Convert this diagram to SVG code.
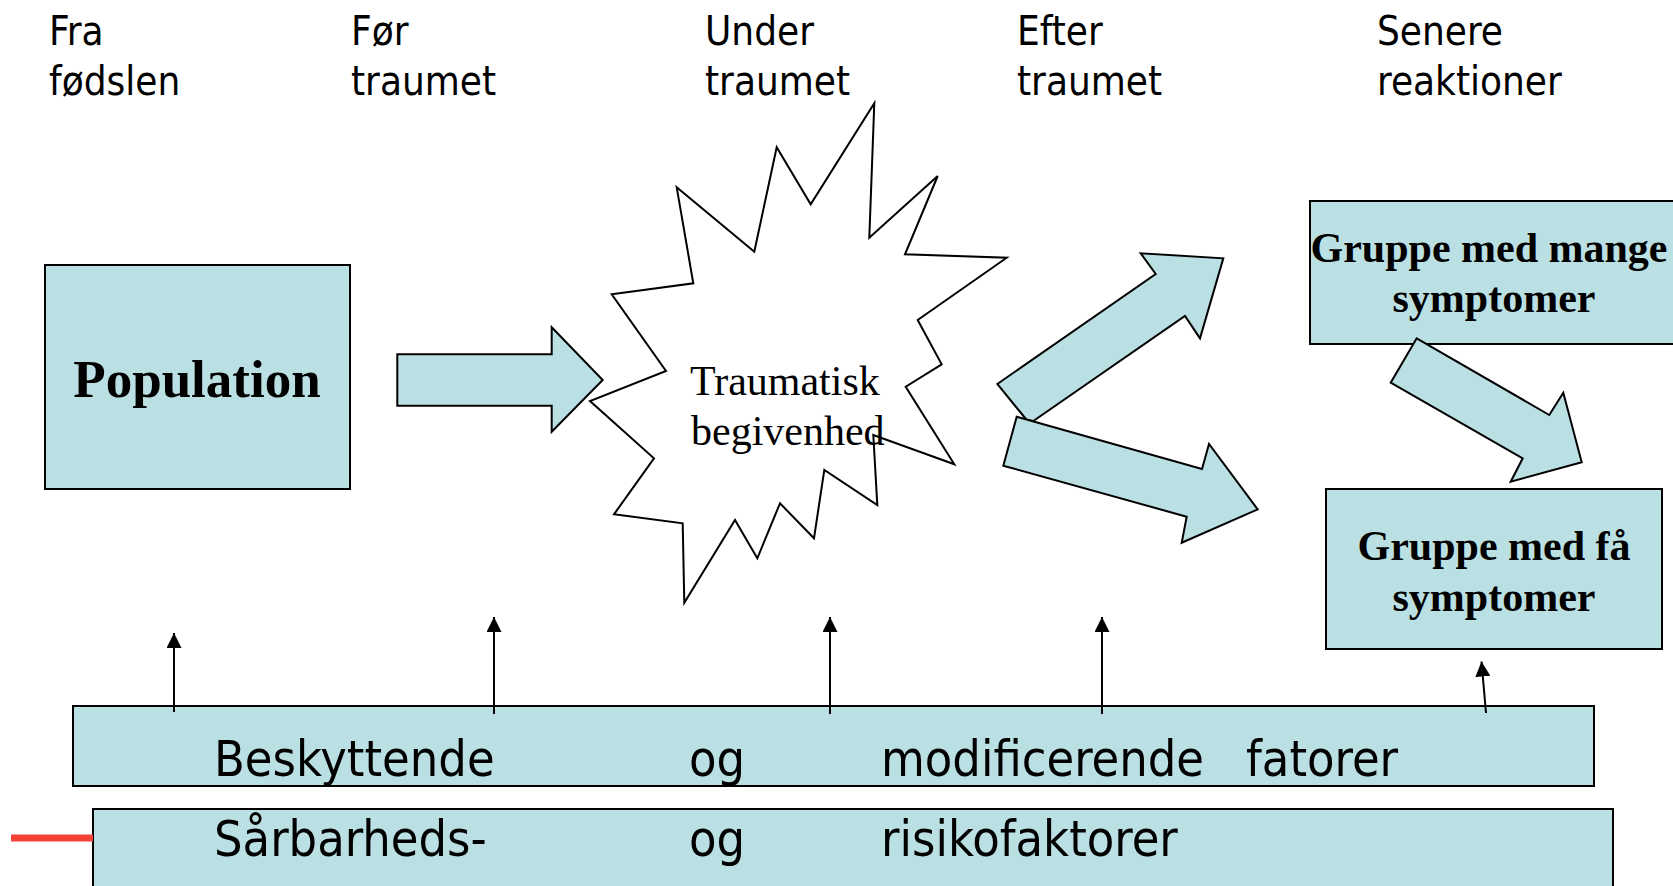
<svg xmlns="http://www.w3.org/2000/svg" width="1673" height="886" viewBox="0 0 1673 886">
<defs>
<style>
.hdr{font-family:'DejaVu Sans Condensed','DejaVu Sans',sans-serif;font-stretch:condensed;font-size:40px;fill:#000}
.bar{font-family:'DejaVu Sans Condensed','DejaVu Sans',sans-serif;font-stretch:condensed;font-size:50px;fill:#000}
.box{fill:#BBE0E3;stroke:#000;stroke-width:2}
.bt{font-family:'Liberation Serif','Times New Roman',serif;font-weight:bold;fill:#000}
.st{font-family:'Liberation Serif','Times New Roman',serif;font-size:42px;fill:#000}
.ln{stroke:#000;stroke-width:2;fill:none}
</style>
<marker id="ah" viewBox="0 0 10 10" refX="10" refY="5" markerWidth="15" markerHeight="15" markerUnits="userSpaceOnUse" orient="auto">
<path d="M0,0 L10,5 L0,10 Z" fill="#000"/>
</marker>
</defs>
<rect width="1673" height="886" fill="#fff"/>

<g id="headers">
<text class="hdr" x="49" y="45">Fra</text><text class="hdr" x="49" y="95">fødslen</text>
<text class="hdr" x="351" y="45">Før</text><text class="hdr" x="351" y="95">traumet</text>
<text class="hdr" x="705" y="45">Under</text><text class="hdr" x="705" y="95">traumet</text>
<text class="hdr" x="1017" y="45">Efter</text><text class="hdr" x="1017" y="95">traumet</text>
<text class="hdr" x="1377" y="45">Senere</text><text class="hdr" x="1377" y="95">reaktioner</text>
</g>

<g id="population">
<rect class="box" x="45" y="265" width="305" height="224"/>
<text class="bt" x="197" y="397" font-size="53" text-anchor="middle">Population</text>
</g>

<g id="traumatisk">
<polygon fill="#fff" stroke="#000" stroke-width="2" points="874.3,103.3 869.3,237.7 937.7,176 905,254.3 1006.7,257.7 917.7,320 941.7,364.3 905.7,386.7 954.3,464.3 873.3,435 877.3,505 824.3,470 814,538.3 780,503.3 757.3,558.3 735,520 684.3,602.7 682.7,523.3 614,514.3 654,458.3 590,401 666,371 611.7,294.3 693.3,283.3 676.7,187.3 754.3,251.7 776.7,147.3 810.7,204.3"/>
<text class="st" x="690" y="395">Traumatisk</text>
<text class="st" x="691" y="445">begivenhed</text>
</g>

<g id="gruppe-mange">
<rect class="box" x="1310" y="201" width="380" height="143"/>
<text class="bt" x="1489" y="262" font-size="42" text-anchor="middle">Gruppe med mange</text>
<text class="bt" x="1494" y="312" font-size="42" text-anchor="middle">symptomer</text>
</g>

<g id="gruppe-faa">
<rect class="box" x="1326" y="489" width="336" height="160"/>
<text class="bt" x="1494" y="560" font-size="42" text-anchor="middle">Gruppe med få</text>
<text class="bt" x="1494" y="611" font-size="42" text-anchor="middle">symptomer</text>
</g>

<g id="beskyttende">
<rect class="box" x="73" y="706" width="1521" height="80"/>
<text class="bar" x="214" y="776">Beskyttende</text>
<text class="bar" x="689" y="776">og</text>
<text class="bar" x="881" y="776">modificerende</text>
<text class="bar" x="1246" y="776">fatorer</text>
</g>

<g id="saarbarhed">
<rect class="box" x="93" y="809" width="1520" height="100"/>
<text class="bar" x="214" y="856">Sårbarheds-</text>
<text class="bar" x="689" y="856">og</text>
<text class="bar" x="881" y="856">risikofaktorer</text>
<line x1="11" y1="838" x2="93" y2="838" stroke="#F44336" stroke-width="7"/>
</g>

<g id="connectors">
<polygon class="box" points="397.3,354.3 551.7,354.3 551.7,327.3 602.7,380 551.7,431.7 551.7,405.7 397.3,405.7"/>
<polygon class="box" points="997.3,384 1155.7,274 1140.7,253.3 1223.3,258.3 1200,338.3 1185,316 1033.3,421 1026.7,420"/>
<polygon class="box" points="1016.7,416.7 1202,469 1209,444 1257.7,509.3 1181.7,542.7 1186.7,516.7 1003.3,465.7"/>
<polygon class="box" points="1416.7,338.3 1549.3,415 1563.3,392.7 1581.7,462.3 1510.7,481.7 1522.7,458.3 1390.7,382.7"/>
<line class="ln" x1="174" y1="712" x2="174" y2="633" marker-end="url(#ah)"/>
<line class="ln" x1="494" y1="714" x2="494" y2="617" marker-end="url(#ah)"/>
<line class="ln" x1="830" y1="714" x2="830" y2="617" marker-end="url(#ah)"/>
<line class="ln" x1="1102" y1="714" x2="1102" y2="617" marker-end="url(#ah)"/>
<line class="ln" x1="1486" y1="713" x2="1481.5" y2="661.5" marker-end="url(#ah)"/>
</g>
</svg>
